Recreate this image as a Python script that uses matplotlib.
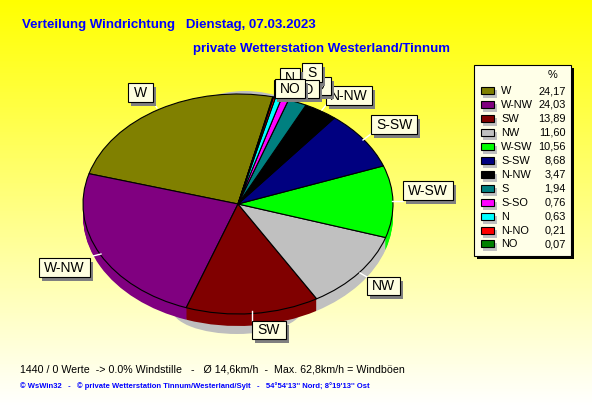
import numpy as np
import matplotlib
matplotlib.use('Agg')
import matplotlib.pyplot as plt
from matplotlib.colors import LinearSegmentedColormap
from matplotlib.patches import Ellipse, Rectangle

# =============================================================================
# Daten
# =============================================================================
richtung = ['W', 'W-NW', 'SW', 'NW', 'W-SW', 'S-SW', 'N-NW', 'S', 'S-SO', 'N', 'N-NO', 'NO']
prozent = [24.17, 24.03, 13.89, 11.60, 10.56, 8.68, 3.47, 1.94, 0.76, 0.63, 0.21, 0.07]
prozent_text = ['24,17', '24,03', '13,89', '11,60', '10,56', '8,68', '3,47', '1,94', '0,76', '0,63', '0,21', '0,07']
farben = ['#808000', '#800080', '#800000', '#C0C0C0', '#00FF00', '#000080',
          '#000000', '#008080', '#FF00FF', '#00FFFF', '#FF0000', '#008000']

titel1 = 'Verteilung Windrichtung   Dienstag, 07.03.2023'
titel2 = 'private Wetterstation Westerland/Tinnum'
fuss1 = '1440 / 0 Werte  -> 0.0% Windstille   -   Ø 14,6km/h  -  Max. 62,8km/h = Windböen'
fuss2 = "© WsWin32   -   © private Wetterstation Tinnum/Westerland/Sylt   -   54°54'13'' Nord; 8°19'13'' Ost"

# Beschriftungen in Zeichenreihenfolge: Text, x0, y0, x1, y1 (Pixel)
boxen = [('W', 128, 83, 153, 102), ('W-NW', 39, 258, 90, 277), ('SW', 252, 321, 286, 339),
         ('NW', 367, 277, 400, 295), ('W-SW', 403, 181, 453, 200), ('S-SW', 371, 115, 417, 134),
         ('N-NW', 326, 86, 372, 105), ('S-SO', 286, 77, 331, 95), ('S', 302, 63, 322, 82),
         ('N', 280, 68, 300, 86), ('N-NO', 274, 80, 319, 98), ('NO', 275, 79, 305, 98)]
striche = [(153, 102, 157, 108), (93, 256, 101, 254), (252, 311, 252, 321), (360, 273, 367, 277),
           (392, 201, 403, 201), (363, 140, 371, 134), (322, 110, 326, 105)]

B, H = 592, 407
cx, cy, rx, ry = 238, 204, 155, 110
tiefe = 12

plt.rcParams['font.family'] = ['Liberation Sans', 'DejaVu Sans']

fig = plt.figure(figsize=(B / 100, H / 100), dpi=100)

# Hintergrund mit Verlauf
bg = fig.add_axes([0, 0, 1, 1], zorder=0)
verlauf = LinearSegmentedColormap.from_list('v', ['#FFFF00', '#FFFFFF'])
bg.imshow(np.linspace(0, 1, H).reshape(-1, 1), cmap=verlauf, aspect='auto',
          extent=(0, B, H, 0), vmin=0, vmax=1)
bg.set_xlim(0, B)
bg.set_ylim(H, 0)
bg.axis('off')
# Schatten unten und schmale Sichel oben
bg.add_patch(Ellipse((237, 309), 130, 50, fc='#BEBEBE', ec='none'))
bg.add_patch(Ellipse((245, 201), 220, 220, fc='#BEBEBE', ec='none'))

# Torte, eigene Achse damit sie elliptisch wird
ax = fig.add_axes([0, 0, 1, 1], zorder=1)
ax.patch.set_visible(False)
for d in range(tiefe, 0, -1):
    ax.pie(prozent, colors=farben, startangle=77, counterclock=True,
           center=(0, -d / ry), radius=1, wedgeprops={'linewidth': 0})
ax.pie(prozent, colors=farben, startangle=77, counterclock=True, radius=1,
       wedgeprops={'linewidth': 0.8, 'edgecolor': 'black'})
ax.set_aspect('auto')
ax.set_xlim(-cx / rx, (B - cx) / rx)
ax.set_ylim((cy - H) / ry, cy / ry)
ax.axis('off')

# Texte, Boxen, Legende in Pixelkoordinaten
ov = fig.add_axes([0, 0, 1, 1], zorder=2)
ov.patch.set_visible(False)
ov.set_xlim(0, B)
ov.set_ylim(H, 0)
ov.axis('off')

ov.text(22, 25, titel1, color='#0000FF', fontsize=9.55, fontweight='bold', va='center')
ov.text(193, 49, titel2, color='#0000FF', fontsize=9.55, fontweight='bold', va='center')
ov.text(20, 369, fuss1, color='black', fontsize=7.7, va='center')
ov.text(20, 386, fuss2, color='#0000FF', fontsize=5.5, fontweight='bold', va='center')

for x0, y0, x1, y1 in striche:
    ov.plot([x0, x1], [y0, y1], color='white', lw=1, zorder=1)
z = 2
for name, x0, y0, x1, y1 in boxen:
    ov.add_patch(Rectangle((x0 + 3, y0 + 4), x1 - x0, y1 - y0, fc='#808080', ec='none', zorder=z))
    ov.add_patch(Rectangle((x0, y0), x1 - x0, y1 - y0, fc='#FFFFE0', ec='black', lw=0.8, zorder=z + 1))
    ov.text((x0 + x1) / 2, (y0 + y1) / 2 + 0.5, name, fontsize=10, ha='center', va='center', zorder=z + 2)
    z += 3

# Legende
ov.add_patch(Rectangle((477, 68), 97, 191, fc='black', ec='none', zorder=z))
ov.add_patch(Rectangle((474, 65), 97, 191, fc='#FFFFE8', ec='black', lw=0.8, zorder=z + 1))
z += 2
ov.text(553, 75, '%', fontsize=7.9, ha='center', va='center', zorder=z)
for i, (name, wert, farbe) in enumerate(zip(richtung, prozent_text, farben)):
    y = 91 + i * 13.95
    ov.add_patch(Rectangle((483, y - 1), 14, 8, fc='#C0C0C0', ec='none', zorder=z))
    ov.add_patch(Rectangle((481, y - 4), 13, 7, fc=farbe, ec='black', lw=0.8, zorder=z + 1))
    ov.text(501, y, name, fontsize=7.9, va='center', zorder=z)
    ov.text(566, y, wert, fontsize=7.9, va='center', ha='right', zorder=z)

fig.savefig('out.png', dpi=100)
